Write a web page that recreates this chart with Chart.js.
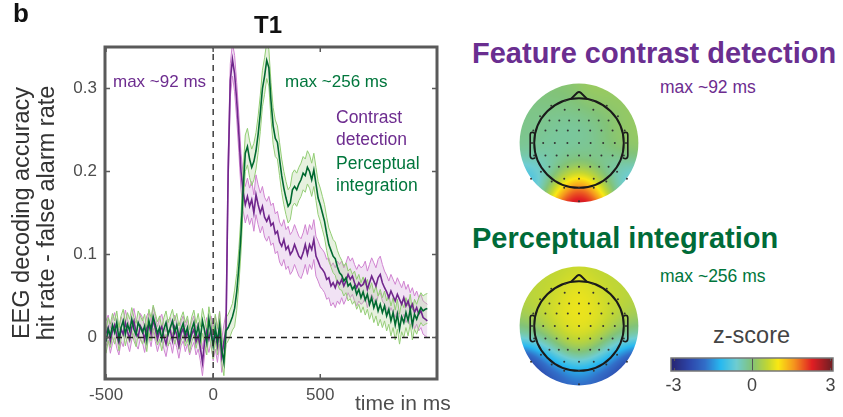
<!DOCTYPE html>
<html lang="en">
<head>
<meta charset="UTF-8">
<title>T1 decoding</title>
<script src="https://cdn.jsdelivr.net/npm/chart.js"></script>
<style>
  body { margin: 0; background: #fff; font-family: "Liberation Sans", Arial, Helvetica, sans-serif; }
  #wrap { position: relative; width: 843px; height: 417px; overflow: hidden; }
  canvas { position: absolute; }
  .lbl { position: absolute; white-space: nowrap; line-height: 1; transform: translateY(-50%); }
  .purple { color: #6d2c8f; }
  .green { color: #00763c; }
</style>
</head>
<body>
<div id="wrap">
  <canvas id="main" width="460" height="417" style="left:0;top:0"></canvas>
  <canvas id="topo1" width="140" height="140" style="left:509px;top:73px"></canvas>
  <canvas id="topo2" width="140" height="140" style="left:509px;top:256px"></canvas>
  <canvas id="cbar" width="183" height="60" style="left:660px;top:350px"></canvas>

  <div class="lbl" style="left:13px;top:13px;font-size:26px;font-weight:bold;color:#111">b</div>
  <div class="lbl" style="left:268px;top:25px;font-size:24px;font-weight:bold;color:#111;transform:translate(-50%,-50%)">T1</div>
  <div class="lbl purple" style="left:113px;top:81px;font-size:17px">max ~92 ms</div>
  <div class="lbl green" style="left:285px;top:81px;font-size:17px">max ~256 ms</div>
  <div class="lbl purple" style="left:336px;top:118px;font-size:17.5px">Contrast</div>
  <div class="lbl purple" style="left:336px;top:140px;font-size:17.5px">detection</div>
  <div class="lbl green" style="left:336px;top:164px;font-size:17.5px">Perceptual</div>
  <div class="lbl green" style="left:336px;top:186px;font-size:17.5px">integration</div>
  <div class="lbl" style="left:355px;top:402px;font-size:21px;color:#4d4d4d">time in ms</div>

  <div class="lbl" style="left:472px;top:53px;font-size:29px;font-weight:bold;color:#6a2e90">Feature contrast detection</div>
  <div class="lbl purple" style="left:660px;top:88px;font-size:17.5px">max ~92 ms</div>
  <div class="lbl" style="left:472px;top:238px;font-size:29px;font-weight:bold;color:#006b38">Perceptual integration</div>
  <div class="lbl green" style="left:660px;top:277px;font-size:17.5px">max ~256 ms</div>
  <div class="lbl" style="left:713px;top:336px;font-size:23.5px;color:#444">z-score</div>
</div>

<script>
// time axis: -500 .. 1000 ms in 10 ms steps
const times = Array.from({ length: 151 }, (_, i) => -500 + i * 10);

// contrast detection (purple)
const contrast = [
  0.005, 0.012, -0.004, 0.008, 0.015, 0.002, -0.006, 0.010, 0.004, 0.018,
  0.007, -0.002, 0.012, 0.020, 0.006, 0.001, 0.014, 0.009, -0.003, 0.011,
  0.016, 0.004, 0.022, 0.010, -0.002, 0.008, 0.013, 0.001, -0.008, 0.006,
  0.009, -0.004, 0.012, 0.003, -0.010, 0.005, 0.011, -0.002, 0.007, -0.006,
  0.004, 0.010, -0.005, 0.002, -0.012, -0.030, -0.005, 0.008, -0.002, 0.010,
  -0.008, 0.006, -0.010, 0.012, -0.022, -0.005, 0.010, 0.200, 0.310, 0.335,
  0.318, 0.285, 0.245, 0.200, 0.175, 0.160, 0.170, 0.158, 0.166, 0.150,
  0.172, 0.160, 0.150, 0.158, 0.145, 0.140, 0.146, 0.135, 0.138, 0.125,
  0.128, 0.115, 0.110, 0.118, 0.106, 0.110, 0.100, 0.104, 0.112, 0.105,
  0.098, 0.095, 0.102, 0.112, 0.100, 0.112, 0.106, 0.118, 0.098, 0.092,
  0.085, 0.082, 0.078, 0.070, 0.072, 0.062, 0.066, 0.060, 0.068, 0.064,
  0.070, 0.062, 0.068, 0.076, 0.070, 0.074, 0.066, 0.060, 0.066, 0.062,
  0.064, 0.070, 0.058, 0.066, 0.074, 0.068, 0.062, 0.072, 0.076, 0.066,
  0.060, 0.055, 0.048, 0.056, 0.050, 0.044, 0.052, 0.046, 0.040, 0.048,
  0.038, 0.044, 0.034, 0.040, 0.030, 0.036, 0.028, 0.032, 0.024, 0.022,
  0.020
];

// perceptual integration (green)
const integration = [
  -0.005, 0.010, 0.002, 0.015, 0.006, 0.018, -0.002, 0.012, 0.020, 0.004,
  0.016, 0.008, 0.022, 0.010, 0.003, 0.018, 0.012, 0.006, 0.014, -0.003,
  0.020, 0.010, 0.025, 0.015, 0.005, 0.012, -0.002, 0.010, 0.018, 0.004,
  0.012, 0.020, 0.006, 0.015, 0.000, 0.010, 0.017, 0.004, 0.012, -0.004,
  0.010, 0.018, 0.002, 0.014, -0.002, 0.020, 0.008, -0.006, 0.022, 0.005,
  -0.010, 0.012, -0.005, 0.015, -0.015, -0.030, 0.008, 0.012, 0.018, 0.025,
  0.035, 0.055, 0.085, 0.125, 0.180, 0.222, 0.230, 0.215, 0.205, 0.212,
  0.225, 0.245, 0.270, 0.300, 0.315, 0.334, 0.325, 0.285, 0.255, 0.240,
  0.235, 0.215, 0.195, 0.180, 0.168, 0.158, 0.162, 0.178, 0.182, 0.178,
  0.185, 0.190, 0.198, 0.195, 0.205, 0.200, 0.190, 0.202, 0.185, 0.168,
  0.160, 0.150, 0.140, 0.125, 0.112, 0.105, 0.098, 0.095, 0.085, 0.078,
  0.075, 0.068, 0.072, 0.062, 0.065, 0.058, 0.062, 0.052, 0.058, 0.048,
  0.055, 0.045, 0.052, 0.040, 0.048, 0.036, 0.044, 0.032, 0.040, 0.030,
  0.038, 0.026, 0.034, 0.020, 0.030, 0.015, 0.028, 0.010, 0.025, 0.018,
  0.030, 0.020, 0.034, 0.015, 0.028, 0.022, 0.030, 0.036, 0.032, 0.034,
  0.035
];

// standard error per 100 ms window, starting at -500 ms
const semContrast    = [0.015, 0.015, 0.015, 0.015, 0.016, 0.020, 0.022, 0.024, 0.024, 0.024, 0.024, 0.022, 0.022, 0.020, 0.020, 0.020];
const semIntegration = [0.014, 0.014, 0.014, 0.014, 0.015, 0.016, 0.022, 0.022, 0.020, 0.020, 0.020, 0.018, 0.018, 0.018, 0.018, 0.018];

const xTicks = [-500, 0, 500];
const yTicks = [0, 0.1, 0.2, 0.3];
const xMin = -505, xMax = 1045, yMin = -0.05, yMax = 0.35;

// electrode layout (head units, head radius = 1)
const elecX = [
  -0.30, 0.30,
  -0.62, 0.62,
  -0.32, 0, 0.32,
  -0.87, 0.87,
  -0.66, -0.44, -0.22, 0, 0.22, 0.44, 0.66,
  -1.02, -0.75, -0.5, -0.25, 0, 0.25, 0.5, 0.75, 1.02,
  -1.05, -0.80, -0.54, -0.26, 0, 0.26, 0.54, 0.80, 1.05,
  -1.0, -0.75, -0.5, -0.25, 0, 0.25, 0.5, 0.75, 1.0,
  -0.85, -0.66, -0.45, -0.25, 0, 0.25, 0.45, 0.66, 0.85,
  -1.07, -0.61, -0.33, 0, 0.33, 0.61, 1.07,
  -0.33, 0, 0.33,
  0
];
const elecY = [
  0.95, 0.95,
  0.83, 0.83,
  0.74, 0.74, 0.74,
  0.60, 0.60,
  0.50, 0.50, 0.50, 0.50, 0.50, 0.50, 0.50,
  0.28, 0.28, 0.28, 0.28, 0.28, 0.28, 0.28, 0.28, 0.28,
  0, 0, 0, 0, 0, 0, 0, 0, 0,
  -0.28, -0.28, -0.28, -0.28, -0.28, -0.28, -0.28, -0.28, -0.28,
  -0.64, -0.53, -0.53, -0.53, -0.53, -0.53, -0.53, -0.53, -0.64,
  -0.80, -0.86, -0.80, -0.80, -0.80, -0.86, -0.80,
  -1.0, -1.0, -1.0,
  -1.3
];
// z-scores at each electrode
const zContrast = [
  0.1, 0.3,
  0.0, 0.2,
  -0.1, 0.1, 0.1,
  -0.1, 0.2,
  -0.1, -0.2, -0.3, -0.2, -0.2, -0.1, 0.1,
  -0.1, -0.2, -0.3, -0.3, -0.3, -0.3, -0.2, 0.1, 0.2,
  -0.1, -0.2, -0.3, -0.2, -0.2, -0.2, 0.0, 0.3, 0.2,
  -0.3, -0.3, -0.2, -0.3, -0.2, -0.2, -0.2, -0.1, 0.0,
  -1.0, -0.5, -0.3, -0.1, 0.1, -0.1, -0.3, -0.5, -0.7,
  -1.2, -0.2, 0.9, 1.6, 0.9, -0.2, -0.9,
  2.0, 2.8, 2.0,
  3.0
];
const zIntegration = [
  0.5, 0.5,
  0.5, 0.5,
  0.8, 1.1, 0.8,
  0.5, 0.5,
  0.6, 0.8, 0.9, 1.0, 0.9, 0.8, 0.6,
  0.4, 0.6, 0.8, 0.9, 0.9, 0.9, 0.8, 0.6, 0.4,
  0.0, 0.5, 0.8, 0.9, 0.9, 0.9, 0.8, 0.5, 0.0,
  -1.0, 0.1, 0.6, 0.8, 0.8, 0.8, 0.6, 0.1, -1.0,
  -2.2, -0.9, 0.0, 0.5, 0.6, 0.5, 0.0, -0.9, -2.1,
  -3.0, -2.6, -1.2, -0.6, -1.2, -2.6, -3.0,
  -2.5, -1.4, -2.5,
  -2.0
];
const zTicks = [-3, 0, 3];

// colour map stops (z, r, g, b)
const cmap = [
  [-3.0, 40, 40, 120], [-2.4, 45, 70, 170], [-1.8, 50, 110, 200], [-1.2, 40, 185, 240],
  [-0.6, 110, 205, 210], [0.0, 130, 195, 120], [0.6, 195, 215, 50], [1.0, 250, 232, 20],
  [1.6, 245, 150, 30], [2.3, 225, 30, 35], [3.0, 120, 30, 35]
];
function zColor(z) {
  if (z <= cmap[0][0]) return cmap[0].slice(1);
  for (let i = 1; i < cmap.length; i++) {
    if (z <= cmap[i][0]) {
      const a = cmap[i - 1], b = cmap[i], t = (z - a[0]) / (b[0] - a[0]);
      return [a[1] + t * (b[1] - a[1]), a[2] + t * (b[2] - a[2]), a[3] + t * (b[3] - a[3])];
    }
  }
  return cmap[cmap.length - 1].slice(1);
}

const purple = 'rgb(112, 38, 140)';
const green = 'rgb(0, 105, 48)';
const tickFont = { family: '"Liberation Sans", Arial, sans-serif', size: 17 };

const band = (vals, sem, sign) =>
  vals.map((v, i) => ({ x: times[i], y: v + sign * sem[Math.floor(i / 10)] }));
const line = (vals) => vals.map((v, i) => ({ x: times[i], y: v }));

const framePlugin = {
  id: 'frame',
  afterDraw(chart) {
    const { ctx, chartArea: a, scales: { x, y } } = chart;
    ctx.save();
    ctx.strokeStyle = '#5a5a5a';
    ctx.lineWidth = 1.5;
    ctx.beginPath();
    xTicks.forEach(t => {
      const px = x.getPixelForValue(t);
      ctx.moveTo(px, a.bottom); ctx.lineTo(px, a.bottom - 5);
      ctx.moveTo(px, a.top); ctx.lineTo(px, a.top + 5);
    });
    yTicks.forEach(t => {
      const py = y.getPixelForValue(t);
      ctx.moveTo(a.left, py); ctx.lineTo(a.left + 5, py);
      ctx.moveTo(a.right, py); ctx.lineTo(a.right - 5, py);
    });
    ctx.stroke();
    ctx.lineWidth = 3;
    ctx.strokeRect(a.left, a.top, a.right - a.left, a.bottom - a.top);
    ctx.restore();
  }
};

new Chart(document.getElementById('main'), {
  type: 'line',
  data: {
    datasets: [
      { data: band(contrast, semContrast, 1), borderColor: 'rgb(208, 130, 208)', borderWidth: 1,
        backgroundColor: 'rgba(205, 150, 215, 0.28)', fill: '+1', order: 6 },
      { data: band(contrast, semContrast, -1), borderColor: 'rgb(208, 130, 208)', borderWidth: 1,
        fill: false, order: 6 },
      { data: band(integration, semIntegration, 1), borderColor: 'rgb(145, 205, 115)', borderWidth: 1,
        backgroundColor: 'rgba(175, 210, 150, 0.3)', fill: '+1', order: 5 },
      { data: band(integration, semIntegration, -1), borderColor: 'rgb(145, 205, 115)', borderWidth: 1,
        fill: false, order: 5 },
      { data: line(contrast), borderColor: purple, borderWidth: 1.6, fill: false, order: 4 },
      { data: line(integration), borderColor: green, borderWidth: 1.6, fill: false, order: 3 },
      { data: [{ x: xMin, y: 0 }, { x: xMax, y: 0 }], borderColor: '#222', borderWidth: 1.3,
        borderDash: [6, 5], fill: false, order: 1 },
      { data: [{ x: 0, y: yMin }, { x: 0, y: yMax }], borderColor: '#222', borderWidth: 1.3,
        borderDash: [6, 5], fill: false, order: 1 }
    ]
  },
  options: {
    responsive: false,
    animation: false,
    devicePixelRatio: 1,
    events: [],
    elements: { point: { radius: 0 }, line: { tension: 0 } },
    layout: { padding: { left: 0, right: 23, top: 47, bottom: 0 } },
    scales: {
      x: {
        type: 'linear', min: xMin, max: xMax,
        afterBuildTicks: s => { s.ticks = xTicks.map(v => ({ value: v })); },
        afterFit: s => { s.height = 38; },
        grid: { display: false, drawTicks: false }, border: { display: false },
        ticks: { font: tickFont, color: '#4d4d4d', padding: 6, maxRotation: 0, callback: v => String(v) }
      },
      y: {
        type: 'linear', min: yMin, max: yMax,
        afterBuildTicks: s => { s.ticks = yTicks.map(v => ({ value: v })); },
        afterFit: s => { s.width = 105; },
        grid: { display: false, drawTicks: false }, border: { display: false },
        ticks: { font: tickFont, color: '#4d4d4d', padding: 8, callback: v => String(Math.round(v * 10) / 10) },
        title: {
          display: true,
          text: ['EEG decoding accuracy', 'hit rate - false alarm rate'],
          font: { family: '"Liberation Sans", Arial, sans-serif', size: 23.5, lineHeight: 1.07 },
          color: '#333',
          padding: { top: 10, bottom: 0 }
        }
      }
    },
    plugins: { legend: { display: false }, tooltip: { enabled: false } }
  },
  plugins: [framePlugin]
});

// topographic maps
const viewR = 70 / 47.5;   // canvas half-width in head units
const mapR = 1.326;        // radius of the coloured disc
const sigma = 0.27;

const topoPlugin = {
  id: 'topo',
  beforeDatasetsDraw(chart, args, opts) {
    const { ctx, chartArea: a, scales: { x, y } } = chart;
    const w = Math.round(a.right - a.left), h = Math.round(a.bottom - a.top);
    const off = document.createElement('canvas');
    off.width = w; off.height = h;
    const octx = off.getContext('2d');
    const img = octx.createImageData(w, h);
    const vals = opts.values;
    const s2 = 2 * sigma * sigma;
    for (let j = 0; j < h; j++) {
      const yv = y.getValueForPixel(a.top + j + 0.5);
      for (let i = 0; i < w; i++) {
        const xv = x.getValueForPixel(a.left + i + 0.5);
        let sw = 0, sz = 0;
        for (let k = 0; k < elecX.length; k++) {
          const dx = xv - elecX[k], dy = yv - elecY[k];
          const wg = Math.exp(-(dx * dx + dy * dy) / s2);
          sw += wg; sz += wg * vals[k];
        }
        const c = zColor(sw > 0 ? sz / sw : 0);
        const p = (j * w + i) * 4;
        img.data[p] = c[0]; img.data[p + 1] = c[1]; img.data[p + 2] = c[2]; img.data[p + 3] = 255;
      }
    }
    octx.putImageData(img, 0, 0);
    const cx = x.getPixelForValue(0), cy = y.getPixelForValue(0);
    const unit = x.getPixelForValue(1) - cx;
    const P = (u, v) => [x.getPixelForValue(u), y.getPixelForValue(v)];
    ctx.save();
    ctx.beginPath();
    ctx.arc(cx, cy, mapR * unit, 0, Math.PI * 2);
    ctx.clip();
    ctx.drawImage(off, a.left, a.top);
    ctx.restore();

    // head outline, nose, ears
    ctx.save();
    ctx.strokeStyle = '#1a1a1a';
    ctx.lineWidth = 2;
    ctx.beginPath();
    ctx.arc(cx, cy, unit, 0, Math.PI * 2);
    ctx.stroke();
    ctx.beginPath();
    ctx.moveTo(...P(-0.18, 0.985));
    ctx.lineTo(...P(-0.04, 1.12));
    ctx.quadraticCurveTo(...P(0, 1.155), ...P(0.04, 1.12));
    ctx.lineTo(...P(0.18, 0.985));
    ctx.stroke();
    ctx.lineWidth = 1.6;
    [-1, 1].forEach(sd => {
      ctx.beginPath();
      ctx.moveTo(...P(sd * 0.99, 0.22));
      ctx.lineTo(...P(sd * 1.04, 0.24));
      ctx.quadraticCurveTo(...P(sd * 1.09, 0.24), ...P(sd * 1.09, 0.18));
      ctx.lineTo(...P(sd * 1.09, -0.28));
      ctx.quadraticCurveTo(...P(sd * 1.09, -0.35), ...P(sd * 1.03, -0.35));
      ctx.lineTo(...P(sd * 0.975, -0.33));
      ctx.stroke();
    });
    ctx.restore();
  }
};

function topoChart(id, values) {
  return new Chart(document.getElementById(id), {
    type: 'scatter',
    data: {
      datasets: [{
        data: elecX.map((v, i) => ({ x: v, y: elecY[i] })),
        pointRadius: 1, pointBackgroundColor: '#333', pointBorderWidth: 0
      }]
    },
    options: {
      responsive: false, animation: false, devicePixelRatio: 1, events: [],
      layout: { padding: 0 },
      scales: {
        x: { type: 'linear', min: -viewR, max: viewR, display: false },
        y: { type: 'linear', min: -viewR, max: viewR, display: false }
      },
      plugins: { legend: { display: false }, tooltip: { enabled: false }, topo: { values } }
    },
    plugins: [topoPlugin]
  });
}
topoChart('topo1', zContrast);
topoChart('topo2', zIntegration);

// colour bar
const cbarPlugin = {
  id: 'cbar',
  beforeDatasetsDraw(chart) {
    const { ctx, chartArea: a, scales: { x } } = chart;
    ctx.save();
    for (let px = Math.floor(a.left); px < a.right; px++) {
      const c = zColor(x.getValueForPixel(px + 0.5));
      ctx.fillStyle = `rgb(${c[0] | 0},${c[1] | 0},${c[2] | 0})`;
      ctx.fillRect(px, a.top, 1, a.bottom - a.top);
    }
    ctx.strokeStyle = '#555';
    ctx.lineWidth = 1;
    ctx.beginPath();
    zTicks.forEach(t => {
      const px = Math.round(x.getPixelForValue(t)) + 0.5;
      if (t === 0) { ctx.moveTo(px, a.top); ctx.lineTo(px, a.bottom); }
      else {
        ctx.moveTo(px, a.top); ctx.lineTo(px, a.top + 3);
        ctx.moveTo(px, a.bottom); ctx.lineTo(px, a.bottom - 3);
      }
    });
    ctx.stroke();
    ctx.strokeStyle = '#777';
    ctx.lineWidth = 1.5;
    ctx.strokeRect(a.left, a.top, a.right - a.left, a.bottom - a.top);
    ctx.restore();
  }
};

new Chart(document.getElementById('cbar'), {
  type: 'scatter',
  data: { datasets: [{ data: [] }] },
  options: {
    responsive: false, animation: false, devicePixelRatio: 1, events: [],
    layout: { padding: { left: 11, right: 10, top: 8, bottom: 0 } },
    scales: {
      x: {
        type: 'linear', min: -3.1, max: 3.1,
        afterBuildTicks: s => { s.ticks = zTicks.map(v => ({ value: v })); },
        afterFit: s => { s.height = 39; },
        grid: { display: false, drawTicks: false }, border: { display: false },
        ticks: { font: { family: '"Liberation Sans", Arial, sans-serif', size: 18 }, color: '#444', padding: 4,
                 maxRotation: 0, callback: v => String(v) }
      },
      y: { type: 'linear', min: 0, max: 1, display: false }
    },
    plugins: { legend: { display: false }, tooltip: { enabled: false } }
  },
  plugins: [cbarPlugin]
});
</script>
</body>
</html>
